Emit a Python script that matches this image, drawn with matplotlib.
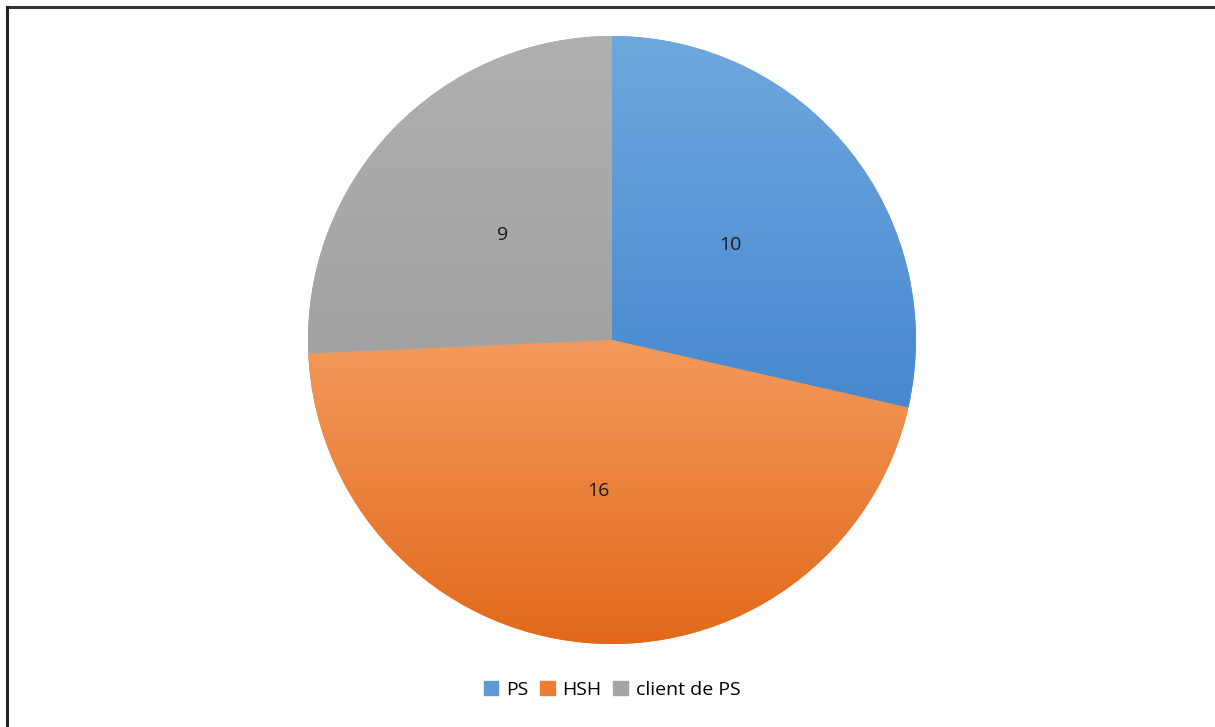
import numpy as np
import matplotlib
matplotlib.use('Agg')
import matplotlib.pyplot as plt
from matplotlib.colors import LinearSegmentedColormap

labels = ['PS', 'HSH', 'client de PS']
values = [10, 16, 9]
# (top, bottom) colours of the gradient fill of each slice
top_colors = ['#6fa8de', '#f39a5c', '#b0b0b0']
bottom_colors = ['#4788d0', '#e2691a', '#a2a2a2']
base_colors = ['#5b9bd5', '#ed7d31', '#a5a5a5']

plt.rcParams['font.family'] = ['Open Sans', 'DejaVu Sans']

fig = plt.figure(figsize=(12.15, 7.27), dpi=100)
W, H = 1215, 727
cx, cy, r = 612, 340, 304
ax = fig.add_axes([(cx - r) / W, (H - cy - r) / H, 2 * r / W, 2 * r / H])

wedges, _, autotexts = ax.pie(values, colors=base_colors, startangle=90,
                              counterclock=False, radius=1,
                              autopct=lambda p: f'{p * sum(values) / 100:.0f}',
                              pctdistance=0.5,
                              textprops={'fontsize': 14, 'color': '#1a1a1a'},
                              wedgeprops={'linewidth': 0})
ax.set_xlim(-1, 1)
ax.set_ylim(-1, 1)
ax.set_aspect('equal')

# vertical gradient inside each slice
for w, c0, c1 in zip(wedges, top_colors, bottom_colors):
    bb = w.get_path().get_extents(w.get_patch_transform())
    cmap = LinearSegmentedColormap.from_list('g', [c1, c0])
    grad = np.linspace(0, 1, 256).reshape(-1, 1)
    im = ax.imshow(grad, cmap=cmap, origin='lower', aspect='auto',
                   extent=[bb.x0, bb.x1, bb.y0, bb.y1], zorder=1.5)
    im.set_clip_path(w)
for t in autotexts:
    t.set_zorder(3)

handles = [plt.Rectangle((0, 0), 1, 1, color=c) for c in base_colors]
fig.legend(handles, labels, loc='center', bbox_to_anchor=(612 / W, 1 - 690 / H),
           ncol=3, frameon=False, fontsize=14, handlelength=0.75,
           handleheight=0.75, handletextpad=0.4, columnspacing=0.6)

# frame lines on the top and left edges only
fig.add_artist(plt.Line2D([7 / W, 1], [1 - 7 / H, 1 - 7 / H], color='#333333',
                          lw=2.2, transform=fig.transFigure))
fig.add_artist(plt.Line2D([7 / W, 7 / W], [0, 1 - 7 / H], color='#222222',
                          lw=2.2, transform=fig.transFigure))

fig.savefig('out.png', dpi=100)
